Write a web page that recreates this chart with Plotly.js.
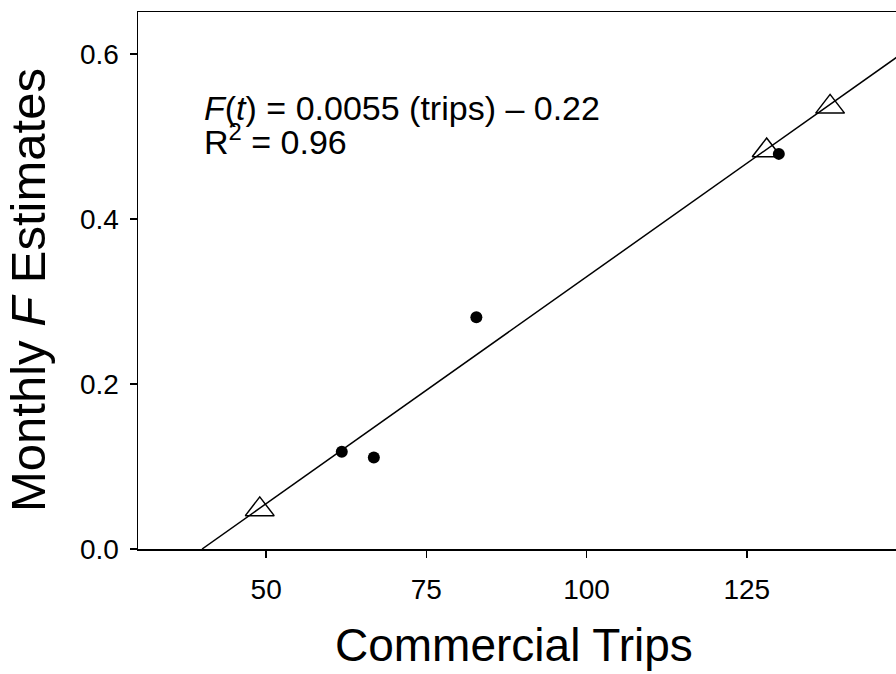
<!DOCTYPE html>
<html>
<head>
<meta charset="utf-8">
<script src="https://cdn.plot.ly/plotly-3.0.1.min.js"></script>
<style>
html, body { margin:0; padding:0; overflow:hidden; background:#fff; width:896px; height:674px; }
#chart { width:920px; height:674px; }
</style>
</head>
<body>
<div id="chart"></div>
<script>
// Data
const dotTrips = [61.8, 66.8, 82.8, 130.0];
const dotF = [0.118, 0.111, 0.281, 0.479];
const triTrips = [49.0, 128.1, 138.0];
const triF = [0.048, 0.483, 0.536];
const fitTrips = [40, 150];
const fitF = [0.0, 0.605];
const xTicks = [50, 75, 100, 125];
const yTicks = [0.0, 0.2, 0.4, 0.6];
const yTickText = ['0.0', '0.2', '0.4', '0.6'];

const font = 'Liberation Sans, Arial, sans-serif';

const traces = [
  { x: fitTrips, y: fitF, mode: 'lines', type: 'scatter',
    line: { color: '#000', width: 1.5 }, hoverinfo: 'skip' },
  { x: triTrips, y: triF, mode: 'markers', type: 'scatter',
    marker: { symbol: 'triangle-up-open', size: 25, color: '#000', line: { width: 1.5, color: '#000' } } },
  { x: dotTrips, y: dotF, mode: 'markers', type: 'scatter',
    marker: { symbol: 'circle', size: 12, color: '#000' } }
];

const layout = {
  width: 920, height: 674,
  margin: { l: 138, r: 13.3, t: 12, b: 125 },
  paper_bgcolor: '#fff', plot_bgcolor: '#fff',
  showlegend: false,
  font: { family: font, color: '#000' },
  xaxis: {
    range: [30, 150], showgrid: false, zeroline: false,
    showline: true, linecolor: '#000', linewidth: 1.5, mirror: true,
    ticks: 'outside', ticklen: 7, tickwidth: 1.5, tickcolor: '#000',
    tickvals: xTicks, tickfont: { size: 28, family: font, color: '#000' },
    ticklabelstandoff: 8
  },
  yaxis: {
    range: [0, 0.651], showgrid: false, zeroline: false,
    showline: true, linecolor: '#000', linewidth: 1.5, mirror: true,
    ticks: 'outside', ticklen: 7, tickwidth: 1.5, tickcolor: '#000',
    tickvals: yTicks, ticktext: yTickText, tickfont: { size: 28, family: font, color: '#000' },
    ticklabelstandoff: 5
  },
  annotations: [
    { x: 40, y: 0.5345, xref: 'x', yref: 'y', xanchor: 'left', yanchor: 'middle', showarrow: false,
      text: '<i>F</i>(<i>t</i>) = 0.0055 (trips) \u2013 0.22', font: { size: 34, family: font, color: '#000' } },
    { x: 40, y: 0.4960, xref: 'x', yref: 'y', xanchor: 'left', yanchor: 'middle', showarrow: false,
      text: 'R<sup>2</sup> = 0.96', font: { size: 34, family: font, color: '#000' } },
    { x: 0.4885, y: -0.1790, xref: 'paper', yref: 'paper', xanchor: 'center', yanchor: 'middle', showarrow: false,
      text: 'Commercial Trips', font: { size: 46, family: font, color: '#000' } },
    { x: -0.1431, y: 0.4823, xref: 'paper', yref: 'paper', xanchor: 'center', yanchor: 'middle', showarrow: false,
      textangle: -90, text: 'Monthly <i>F</i> Estimates', font: { size: 49, family: font, color: '#000' } }
  ]
};

Plotly.newPlot('chart', traces, layout, { displayModeBar: false, staticPlot: true });
</script>
</body>
</html>
